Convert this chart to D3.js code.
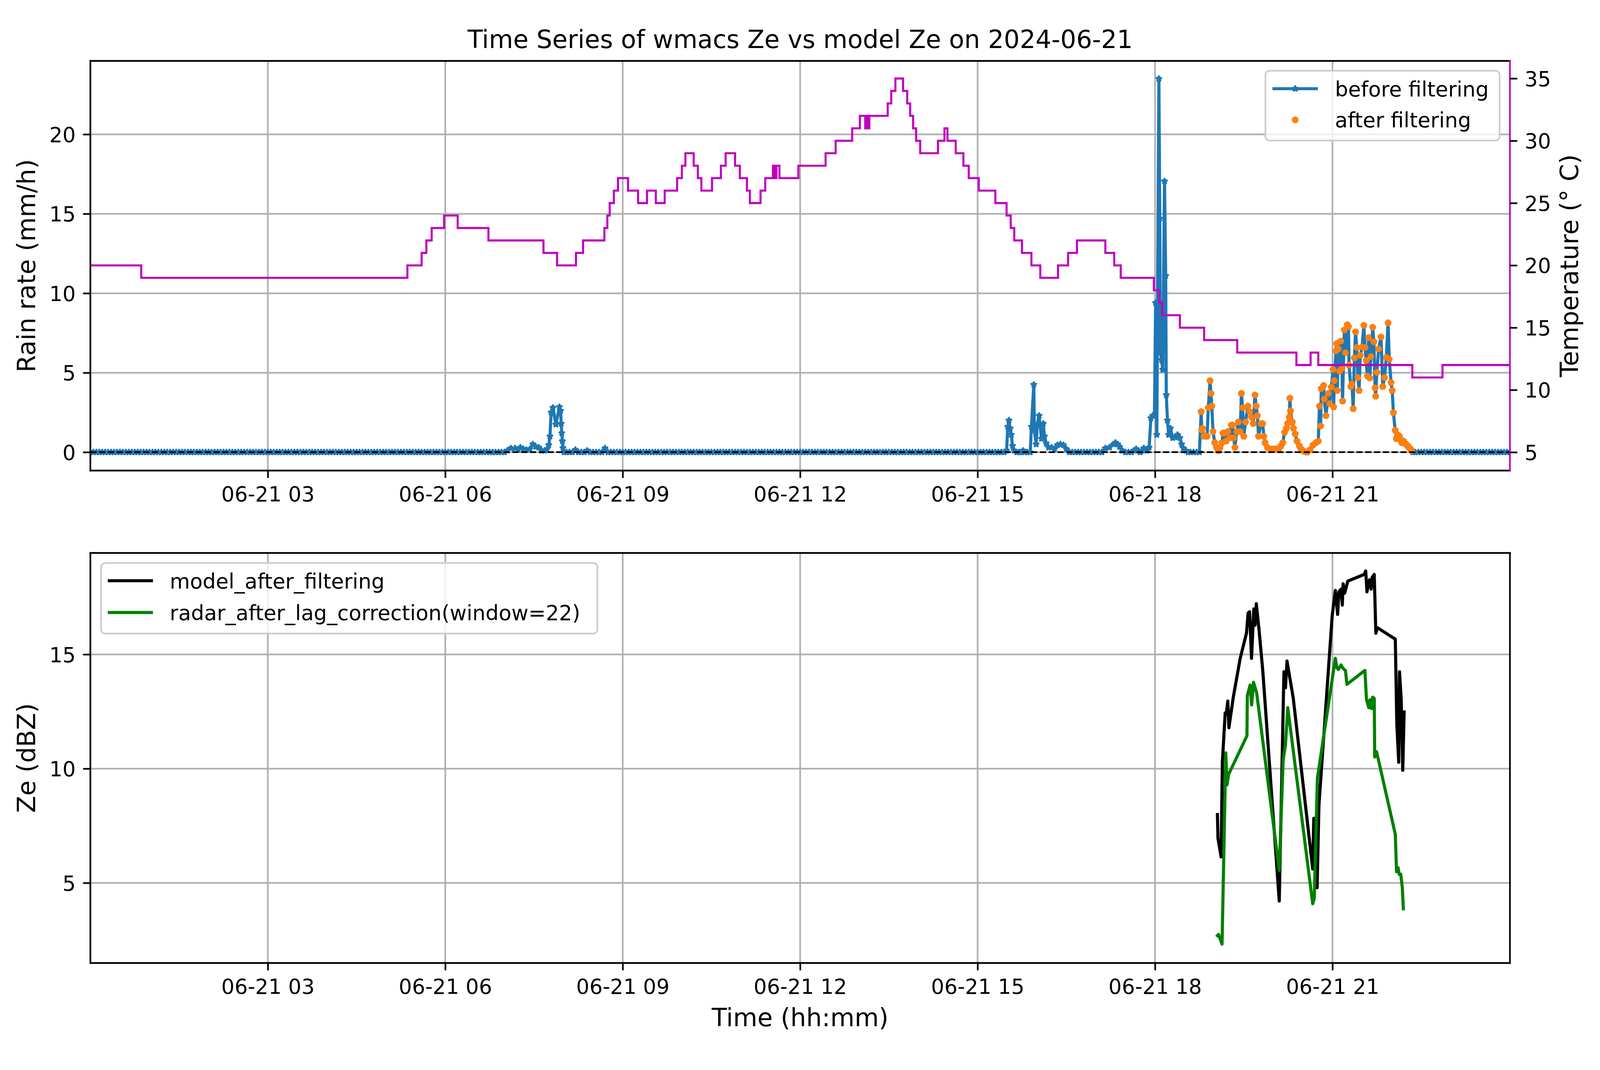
<!DOCTYPE html>
<html>
<head>
<meta charset="utf-8">
<script src="https://cdn.jsdelivr.net/npm/d3@7"></script>
<style>
  html, body { margin: 0; padding: 0; background: #fff; overflow: hidden; }
  #chart { width: 100vw; height: 100vh; }
  svg { display: block; width: 100%; height: 100%; font-family: "DejaVu Sans", sans-serif; }
</style>
</head>
<body>
<div id="chart"></div>
<script>
// ---- data (hours since 2024-06-21 00:00) ----
const tickHours = [3, 6, 9, 12, 15, 18, 21];
const rainTicks = [0, 5, 10, 15, 20];
const tempTicks = [5, 10, 15, 20, 25, 30, 35];
const zeTicks = [5, 10, 15];

// rain rate before filtering, [hour, mm/h]
const rainBefore = [
  [0,0],[0.05,0],[0.1,0],[0.15,0],[0.2,0],[0.25,0],[0.3,0],[0.35,0],[0.4,0],[0.45,0],
  [0.5,0],[0.55,0],[0.6,0],[0.65,0],[0.7,0],[0.75,0],[0.8,0],[0.85,0],[0.9,0],[0.95,0],
  [1,0],[1.05,0],[1.1,0],[1.15,0],[1.2,0],[1.25,0],[1.3,0],[1.35,0],[1.4,0],[1.45,0],
  [1.5,0],[1.55,0],[1.6,0],[1.65,0],[1.7,0],[1.75,0],[1.8,0],[1.85,0],[1.9,0],[1.95,0],
  [2,0],[2.05,0],[2.1,0],[2.15,0],[2.2,0],[2.25,0],[2.3,0],[2.35,0],[2.4,0],[2.45,0],
  [2.5,0],[2.55,0],[2.6,0],[2.65,0],[2.7,0],[2.75,0],[2.8,0],[2.85,0],[2.9,0],[2.95,0],
  [3,0],[3.05,0],[3.1,0],[3.15,0],[3.2,0],[3.25,0],[3.3,0],[3.35,0],[3.4,0],[3.45,0],
  [3.5,0],[3.55,0],[3.6,0],[3.65,0],[3.7,0],[3.75,0],[3.8,0],[3.85,0],[3.9,0],[3.95,0],
  [4,0],[4.05,0],[4.1,0],[4.15,0],[4.2,0],[4.25,0],[4.3,0],[4.35,0],[4.4,0],[4.45,0],
  [4.5,0],[4.55,0],[4.6,0],[4.65,0],[4.7,0],[4.75,0],[4.8,0],[4.85,0],[4.9,0],[4.95,0],
  [5,0],[5.05,0],[5.1,0],[5.15,0],[5.2,0],[5.25,0],[5.3,0],[5.35,0],[5.4,0],[5.45,0],
  [5.5,0],[5.55,0],[5.6,0],[5.65,0],[5.7,0],[5.75,0],[5.8,0],[5.85,0],[5.9,0],[5.95,0],
  [6,0],[6.05,0],[6.1,0],[6.15,0],[6.2,0],[6.25,0],[6.3,0],[6.35,0],[6.4,0],[6.45,0],
  [6.5,0],[6.55,0],[6.6,0],[6.65,0],[6.7,0],[6.75,0],[6.8,0],[6.85,0],[6.9,0],[6.95,0],
  [7,0],[7.05,0.1],[7.11,0.25],[7.18,0.25],[7.23,0.15],[7.27,0.3],[7.32,0.2],[7.37,0.15],
  [7.43,0.2],[7.48,0.5],[7.53,0.35],[7.58,0.3],[7.63,0.1],[7.68,0.1],[7.72,0.2],[7.75,0.45],
  [7.77,1.0],[7.79,2.5],[7.82,2.8],[7.87,1.75],[7.93,2.85],[7.95,2.6],[7.96,1.8],[7.97,1.2],
  [7.98,0.7],[7.99,0.27],[8.01,0],[8.05,0],[8.1,0],[8.15,0],[8.2,0.15],[8.25,0],[8.3,0],
  [8.35,0],[8.4,0.1],[8.45,0],[8.5,0],[8.55,0],[8.6,0],[8.65,0],[8.7,0.25],[8.75,0],
  [8.8,0],[8.85,0],[8.9,0],[8.95,0],
  [9,0],[9.05,0],[9.1,0],[9.15,0],[9.2,0],[9.25,0],[9.3,0],[9.35,0],[9.4,0],[9.45,0],
  [9.5,0],[9.55,0],[9.6,0],[9.65,0],[9.7,0],[9.75,0],[9.8,0],[9.85,0],[9.9,0],[9.95,0],
  [10,0],[10.05,0],[10.1,0],[10.15,0],[10.2,0],[10.25,0],[10.3,0],[10.35,0],[10.4,0],[10.45,0],
  [10.5,0],[10.55,0],[10.6,0],[10.65,0],[10.7,0],[10.75,0],[10.8,0],[10.85,0],[10.9,0],[10.95,0],
  [11,0],[11.05,0],[11.1,0],[11.15,0],[11.2,0],[11.25,0],[11.3,0],[11.35,0],[11.4,0],[11.45,0],
  [11.5,0],[11.55,0],[11.6,0],[11.65,0],[11.7,0],[11.75,0],[11.8,0],[11.85,0],[11.9,0],[11.95,0],
  [12,0],[12.05,0],[12.1,0],[12.15,0],[12.2,0],[12.25,0],[12.3,0],[12.35,0],[12.4,0],[12.45,0],
  [12.5,0],[12.55,0],[12.6,0],[12.65,0],[12.7,0],[12.75,0],[12.8,0],[12.85,0],[12.9,0],[12.95,0],
  [13,0],[13.05,0],[13.1,0],[13.15,0],[13.2,0],[13.25,0],[13.3,0],[13.35,0],[13.4,0],[13.45,0],
  [13.5,0],[13.55,0],[13.6,0],[13.65,0],[13.7,0],[13.75,0],[13.8,0],[13.85,0],[13.9,0],[13.95,0],
  [14,0],[14.05,0],[14.1,0],[14.15,0],[14.2,0],[14.25,0],[14.3,0],[14.35,0],[14.4,0],[14.45,0],
  [14.5,0],[14.55,0],[14.6,0],[14.65,0],[14.7,0],[14.75,0],[14.8,0],[14.85,0],[14.9,0],[14.95,0],
  [15,0],[15.05,0],[15.1,0],[15.15,0],[15.2,0],[15.25,0],[15.3,0],[15.35,0],[15.4,0],[15.45,0],
  [15.49,0.1],[15.51,1.6],[15.53,2.0],[15.55,1.5],[15.57,1.1],[15.59,0.4],[15.62,0.1],[15.66,0],
  [15.7,0],[15.73,0],[15.77,0.1],[15.8,0],[15.84,0],[15.89,0],
  [15.91,1.6],[15.95,4.25],[15.96,1.4],[15.99,0.5],[16.01,1.75],[16.04,2.3],[16.08,0.85],
  [16.11,1.8],[16.13,1.0],[16.16,0.55],[16.2,0.3],[16.25,0.3],[16.3,0.2],[16.35,0.45],
  [16.4,0.5],[16.45,0.45],[16.5,0.2],[16.55,0],[16.6,0],[16.65,0],[16.7,0],[16.75,0],[16.8,0],
  [16.85,0],[16.9,0],[16.95,0],[17,0],[17.05,0],[17.1,0],
  [17.16,0.25],[17.23,0.3],[17.3,0.5],[17.33,0.6],[17.37,0.5],[17.4,0.35],[17.45,0.1],
  [17.5,0],[17.55,0],[17.6,0],[17.64,0.1],[17.68,0.2],[17.72,0.1],[17.75,0],[17.78,0.1],
  [17.81,0.25],[17.86,0.1],[17.9,0.3],[17.93,2.15],
  [17.96,2.3],[17.99,2.3],[18.01,9.4],[18.03,1.1],[18.065,23.5],[18.08,14.7],[18.09,6.3],
  [18.11,5.8],[18.13,5.2],[18.16,17.05],[18.18,11.1],[18.19,3.6],[18.21,2.0],[18.23,1.1],
  [18.26,1.5],[18.3,0.9],[18.34,0.95],[18.38,1.1],[18.42,0.9],[18.45,0.5],[18.48,0.25],
  [18.52,0.1],[18.56,0],[18.6,0],[18.65,0],[18.7,0],[18.75,0],
  [18.78,2.55],[18.79,1.4],[18.8,1.5],[18.83,1.0],[18.86,1.0],[18.88,1.0],[18.9,2.8],[18.93,4.5],
  [18.945,3.7],[18.96,2.9],[18.98,1.3],[19.01,0.6],[19.04,0.3],[19.07,0.1],[19.1,0.3],[19.13,0.6],
  [19.15,1.2],[19.17,1.2],[19.2,0.7],[19.23,1.3],[19.26,0.9],[19.29,1.7],[19.31,1.7],[19.33,0.9],
  [19.35,0.3],[19.38,1.3],[19.41,1.9],[19.44,1.3],[19.46,3.7],[19.48,2.8],[19.5,1.0],[19.53,1.9],
  [19.57,2.9],[19.6,2.55],[19.63,2.2],[19.66,1.8],[19.69,3.6],[19.71,2.9],[19.73,2.3],[19.75,1.0],
  [19.79,1.8],[19.82,1.8],[19.84,1.0],[19.86,0.6],[19.9,0.3],[19.94,0.2],[19.98,0.2],[20.02,0.2],
  [20.06,0.2],[20.09,0.15],[20.13,0.4],[20.16,0.6],[20.19,1.25],[20.22,1.5],[20.24,1.8],[20.27,2.2],
  [20.28,3.4],[20.29,2.6],[20.32,1.9],[20.34,1.5],[20.37,1.15],[20.4,0.7],[20.44,0.4],[20.47,0.2],
  [20.52,0.05],[20.57,0],[20.62,0.15],[20.67,0.45],[20.72,0.6],[20.76,0.7],[20.78,2.9],[20.8,1.65],
  [20.81,4.0],[20.85,4.2],[20.86,3.35],[20.89,2.3],[20.93,3.7],[20.95,3.05],[20.98,4.1],[21.01,5.2],
  [21.02,2.85],[21.03,4.5],[21.06,6.38],[21.07,6.83],[21.08,3.88],[21.1,6.5],[21.12,5.1],[21.14,6.99],
  [21.16,5.27],[21.17,3.22],[21.2,7.69],[21.22,6.26],[21.25,8.02],[21.27,7.9],[21.28,5.48],[21.31,4.13],
  [21.33,4.3],[21.35,2.74],[21.37,5.93],[21.39,7.57],[21.41,6.59],[21.43,4.7],[21.45,3.88],[21.47,6.1],
  [21.5,6.62],[21.53,7.98],[21.55,6.59],[21.57,5.77],[21.59,4.79],[21.61,7.21],[21.63,4.67],[21.65,6.02],
  [21.68,7.86],[21.7,6.95],[21.72,4.05],[21.73,3.52],[21.75,5.03],[21.78,6.5],[21.82,7.25],[21.85,4.13],
  [21.88,4.7],[21.91,5.97],[21.94,8.14],[21.96,5.85],[21.99,4.38],[22.01,3.88],[22.03,2.49],[22.06,1.38],
  [22.08,0.85],[22.1,1.1],[22.13,1.01],[22.15,0.8],[22.17,0.6],[22.2,0.7],[22.24,0.52],[22.27,0.4],
  [22.29,0.31],[22.32,0.2],[22.34,0.1],[22.36,0],
  [22.4,0],[22.45,0],[22.5,0],[22.55,0],[22.6,0],[22.65,0],[22.7,0],[22.75,0],[22.8,0],[22.85,0],
  [22.9,0],[22.95,0],[23,0],[23.05,0],[23.1,0],[23.15,0],[23.2,0],[23.25,0],[23.3,0],[23.35,0],
  [23.4,0],[23.45,0],[23.5,0],[23.55,0],[23.6,0],[23.65,0],[23.7,0],[23.75,0],[23.8,0],[23.85,0],
  [23.9,0],[23.95,0],[24,0]
];
// samples kept by the filter
const filterWindow = [18.77, 22.35];

// temperature, [hour the level starts, deg C]
const temperature = [
  [0,20],[0.86,19],[5.36,20],[5.6,21],[5.68,22],[5.77,23],[5.98,24],[6.21,23],[6.73,22],
  [7.66,21],[7.89,20],[8.21,21],[8.33,22],[8.69,23],[8.74,24],[8.78,25],[8.85,26],[8.92,27],
  [9.09,26],[9.26,25],[9.41,26],[9.56,25],[9.71,26],[9.92,27],[10.0,28],[10.06,29],[10.2,28],
  [10.27,27],[10.33,26],[10.51,27],[10.66,28],[10.74,29],[10.9,28],[10.98,27],[11.1,26],
  [11.15,25],[11.33,26],[11.41,27],[11.54,28],[11.57,27],[11.6,28],[11.65,27],[11.97,28],
  [12.43,29],[12.6,30],[12.88,31],[13.01,32],[13.1,31],[13.13,32],[13.15,31],[13.17,32],
  [13.48,33],[13.54,34],[13.61,35],[13.74,34],[13.81,33],[13.86,32],[13.91,31],[13.96,30],
  [14.03,29],[14.33,30],[14.44,31],[14.49,30],[14.63,29],[14.76,28],[14.85,27],[15.02,26],
  [15.3,25],[15.49,24],[15.56,23],[15.62,22],[15.75,21],[15.91,20],[16.06,19],[16.36,20],
  [16.53,21],[16.68,22],[17.16,21],[17.31,20],[17.42,19],[17.98,18],[18.07,17],[18.12,16],
  [18.42,15],[18.83,14],[19.39,13],[20.39,12],[20.63,13],[20.76,12],[22.35,11],[22.86,12],
  [24.0,12]
];

// Ze (dBZ), [hour, value]
const modelZe = [
  [19.054,8.06],[19.064,6.95],[19.117,6.14],[19.138,10.28],[19.186,12.44],[19.204,12.38],
  [19.23,12.96],[19.249,11.79],[19.323,13.13],[19.44,14.83],[19.546,15.93],[19.573,16.81],
  [19.599,16.87],[19.631,14.83],[19.67,16.99],[19.691,16.28],[19.712,17.22],[19.757,16.11],
  [19.823,14.24],[20.1,4.21],[20.179,14.24],[20.205,13.54],[20.231,14.71],[20.337,13.08],
  [20.666,5.61],[20.684,7.83],[20.74,4.79],[20.771,8.41],[20.995,16.69],[21.048,17.8],
  [21.087,16.75],[21.108,17.74],[21.145,17.86],[21.166,17.16],[21.18,18.09],[21.206,17.68],
  [21.259,18.21],[21.535,18.5],[21.562,18.65],[21.583,17.74],[21.628,18.27],[21.654,17.86],
  [21.672,18.38],[21.706,18.5],[21.733,15.93],[21.759,16.17],[22.062,15.67],[22.088,11.91],
  [22.12,10.28],[22.133,14.24],[22.162,13.02],[22.188,9.93],[22.212,12.55]
];
const radarZe = [
  [19.038,2.64],[19.072,2.75],[19.133,2.32],[19.196,10.69],[19.217,9.29],[19.244,9.75],
  [19.554,11.44],[19.56,13.19],[19.607,13.66],[19.633,12.79],[19.665,13.78],[19.718,13.31],
  [19.744,12.79],[20.1,5.55],[20.166,10.39],[20.205,11.04],[20.244,12.67],[20.666,4.09],
  [20.692,4.33],[20.745,9.58],[21.048,14.83],[21.074,14.42],[21.1,14.34],[21.145,14.54],
  [21.18,14.38],[21.219,14.3],[21.245,13.69],[21.548,14.3],[21.575,13.02],[21.614,12.67],
  [21.635,13.02],[21.659,12.63],[21.68,13.13],[21.706,13.08],[21.714,10.51],[21.746,10.74],
  [22.062,7.13],[22.083,5.49],[22.109,5.67],[22.128,5.38],[22.154,5.38],[22.181,4.79],
  [22.199,3.8]
];

(function drawChart() {
    // figure is laid out 5241 units wide; its height follows the window shape
    const W = 5241;
    const vw = window.innerWidth || 5241;
    const vh = window.innerHeight || 2740;
    const H = Math.round(W * vh / vw);
    const fy = v => v * H / 2740;    // vertical layout fractions of the 2740-high original

    const pt = 6.8;                  // px per point
    const left = 296, right = 4946;
    const top1 = fy(156), bottom1 = fy(1205);
    const top2 = fy(1416), bottom2 = fy(2466);
    const blue = "#1f77b4", orange = "#ff7f0e", magenta = "#bf00bf", green = "#008000";
    const gridColor = "#b0b0b0";
    const day0 = new Date(2024, 5, 21, 0, 0);
    const toDate = h => new Date(day0.getTime() + h * 3600e3);

    const x = d3.scaleTime().domain([toDate(0), toDate(24)]).range([left, right]);
    const yRain = d3.scaleLinear().domain([-1.155, 24.62]).range([bottom1, top1]);
    const yTemp = d3.scaleLinear().domain([3.53, 36.41]).range([bottom1, top1]);
    const yZe = d3.scaleLinear().domain([1.496, 19.44]).range([bottom2, top2]);
    const fmt = d3.timeFormat("%m-%d %H");

    const svg = d3.select("#chart").append("svg")
        .attr("viewBox", `0 0 ${W} ${H}`)
        .attr("preserveAspectRatio", "xMidYMid meet");
    svg.append("rect").attr("width", W).attr("height", H).attr("fill", "#fff");

    const defs = svg.append("defs");
    [["clip-top", top1, bottom1], ["clip-bot", top2, bottom2]].forEach(([id, t, b]) => {
        defs.append("clipPath").attr("id", id)
            .append("rect").attr("x", left).attr("y", t)
            .attr("width", right - left).attr("height", b - t);
    });

    const starSize = 8 * 8 / 0.8908130915292852;  // outer radius 8px
    const star = d3.symbol().type(d3.symbolStar).size(starSize);

    function grid(g, t, b, yScale, yTicks) {
        tickHours.forEach(h => {
            g.append("line")
                .attr("x1", x(toDate(h))).attr("x2", x(toDate(h)))
                .attr("y1", t).attr("y2", b)
                .attr("stroke", gridColor).attr("stroke-width", 0.8 * pt);
        });
        yTicks.forEach(v => {
            g.append("line")
                .attr("x1", left).attr("x2", right)
                .attr("y1", yScale(v)).attr("y2", yScale(v))
                .attr("stroke", gridColor).attr("stroke-width", 0.8 * pt);
        });
    }

    function styleAxis(g, dy) {
        g.select(".domain").remove();
        g.attr("font-size", null).attr("font-family", null);
        g.selectAll("line").attr("stroke", "#000").attr("stroke-width", 0.8 * pt);
        g.selectAll("text")
            .attr("font-size", 68)
            .attr("font-family", "DejaVu Sans")
            .attr("fill", "#000");
        if (dy) g.selectAll("text").attr("dy", dy);
    }

    function xAxis(yPos) {
        const g = svg.append("g").attr("transform", `translate(0,${yPos})`)
            .call(d3.axisBottom(x).tickValues(tickHours.map(toDate))
                .tickFormat(fmt).tickSize(24).tickPadding(29).tickSizeOuter(0));
        styleAxis(g, null);
    }

    function spines(t, b, rightColor) {
        const g = svg.append("g").attr("fill", "none").attr("stroke-width", 0.8 * pt)
            .attr("stroke-linecap", "square");
        g.append("line").attr("x1", left).attr("x2", left).attr("y1", t).attr("y2", b).attr("stroke", "#000");
        g.append("line").attr("x1", left).attr("x2", right).attr("y1", t).attr("y2", t).attr("stroke", "#000");
        g.append("line").attr("x1", left).attr("x2", right).attr("y1", b).attr("y2", b).attr("stroke", "#000");
        g.append("line").attr("x1", right).attr("x2", right).attr("y1", t).attr("y2", b).attr("stroke", rightColor);
    }

    function yLabel(text, xPos, yPos) {
        svg.append("text")
            .attr("transform", `translate(${xPos},${yPos}) rotate(-90)`)
            .attr("text-anchor", "middle")
            .attr("font-size", 81.6)
            .attr("fill", "#000")
            .text(text);
    }

    function legendBox(x0, y0, w, h) {
        svg.append("rect")
            .attr("x", x0).attr("y", y0).attr("width", w).attr("height", h)
            .attr("rx", 13.6).attr("ry", 13.6)
            .attr("fill", "#fff").attr("fill-opacity", 0.8)
            .attr("stroke", "#cccccc").attr("stroke-width", 0.8 * pt);
    }

    function legendText(text, xPos, yPos) {
        svg.append("text")
            .attr("x", xPos).attr("y", yPos).attr("dy", "0.365em")
            .attr("font-size", 68).attr("fill", "#000")
            .text(text);
    }

    // ---------- top panel ----------
    grid(svg.append("g"), top1, bottom1, yRain, rainTicks);

    const topData = svg.append("g").attr("clip-path", "url(#clip-top)");
    const rainLine = d3.line().x(d => x(toDate(d[0]))).y(d => yRain(d[1]));
    topData.append("path")
        .attr("d", rainLine(rainBefore))
        .attr("fill", "none").attr("stroke", blue)
        .attr("stroke-width", 1.5 * pt).attr("stroke-linejoin", "round");
    topData.append("g").selectAll("path").data(rainBefore).join("path")
        .attr("transform", d => `translate(${x(toDate(d[0]))},${yRain(d[1])})`)
        .attr("d", star)
        .attr("fill", blue).attr("stroke", blue)
        .attr("stroke-width", pt).attr("stroke-linejoin", "round");

    const rainAfter = rainBefore.filter(d => d[0] >= filterWindow[0] && d[0] <= filterWindow[1]);
    topData.append("g").selectAll("circle").data(rainAfter).join("circle")
        .attr("cx", d => x(toDate(d[0]))).attr("cy", d => yRain(d[1]))
        .attr("r", 11).attr("fill", orange);

    topData.append("line")
        .attr("x1", left).attr("x2", right)
        .attr("y1", yRain(0)).attr("y2", yRain(0))
        .attr("stroke", "#000").attr("stroke-width", 0.8 * pt)
        .attr("stroke-dasharray", "20.1 8.7");

    const tempLine = d3.line().curve(d3.curveStepAfter)
        .x(d => x(toDate(d[0]))).y(d => yTemp(d[1]));
    topData.append("path")
        .attr("d", tempLine(temperature))
        .attr("fill", "none").attr("stroke", magenta)
        .attr("stroke-width", pt);

    spines(top1, bottom1, magenta);
    xAxis(bottom1);

    const yLeft1 = svg.append("g").attr("transform", `translate(${left},0)`)
        .call(d3.axisLeft(yRain).tickValues(rainTicks).tickSize(24).tickPadding(24).tickSizeOuter(0));
    styleAxis(yLeft1, "0.365em");

    const yRight1 = svg.append("g").attr("transform", `translate(${right},0)`)
        .call(d3.axisRight(yTemp).tickValues(tempTicks).tickSize(24).tickPadding(24).tickSizeOuter(0));
    styleAxis(yRight1, "0.365em");

    yLabel("Rain rate (mm/h)", 115, (top1 + bottom1) / 2);
    yLabel("Temperature (\u00b0 C)", 5170, (top1 + bottom1) / 2);

    svg.append("text")
        .attr("x", (left + right) / 2).attr("y", top1 - 42)
        .attr("text-anchor", "middle")
        .attr("font-size", 81.6).attr("fill", "#000")
        .text("Time Series of wmacs Ze vs model Ze on 2024-06-21");

    // legend, upper right
    const lgTop = top1 + 32;
    legendBox(right - 801, lgTop, 767, 229);
    svg.append("line")
        .attr("x1", right - 778).attr("x2", right - 629).attr("y1", lgTop + 59).attr("y2", lgTop + 59)
        .attr("stroke", blue).attr("stroke-width", 1.5 * pt);
    svg.append("path")
        .attr("transform", `translate(${right - 703.5},${lgTop + 59})`)
        .attr("d", star)
        .attr("fill", blue).attr("stroke", blue)
        .attr("stroke-width", pt).attr("stroke-linejoin", "round");
    legendText("before filtering", right - 573, lgTop + 59);
    svg.append("circle").attr("cx", right - 703.5).attr("cy", lgTop + 161).attr("r", 11).attr("fill", orange);
    legendText("after filtering", right - 573, lgTop + 161);

    // ---------- bottom panel ----------
    grid(svg.append("g"), top2, bottom2, yZe, zeTicks);

    const botData = svg.append("g").attr("clip-path", "url(#clip-bot)");
    const zeLine = d3.line().x(d => x(toDate(d[0]))).y(d => yZe(d[1]));
    botData.append("path")
        .attr("d", zeLine(modelZe))
        .attr("fill", "none").attr("stroke", "#000")
        .attr("stroke-width", 1.5 * pt).attr("stroke-linejoin", "round");
    botData.append("path")
        .attr("d", zeLine(radarZe))
        .attr("fill", "none").attr("stroke", green)
        .attr("stroke-width", 1.5 * pt).attr("stroke-linejoin", "round");

    spines(top2, bottom2, "#000");
    xAxis(bottom2);

    const yLeft2 = svg.append("g").attr("transform", `translate(${left},0)`)
        .call(d3.axisLeft(yZe).tickValues(zeTicks).tickSize(24).tickPadding(24).tickSizeOuter(0));
    styleAxis(yLeft2, "0.365em");

    yLabel("Ze (dBZ)", 115, (top2 + bottom2) / 2);

    svg.append("text")
        .attr("x", (left + right) / 2).attr("y", bottom2 + 207)
        .attr("text-anchor", "middle")
        .attr("font-size", 81.6).attr("fill", "#000")
        .text("Time (hh:mm)");

    // legend, upper left
    const lbTop = top2 + 33;
    legendBox(left + 35, lbTop, 1626, 231);
    svg.append("line")
        .attr("x1", left + 57).attr("x2", left + 205).attr("y1", lbTop + 58).attr("y2", lbTop + 58)
        .attr("stroke", "#000").attr("stroke-width", 1.5 * pt);
    legendText("model_after_filtering", left + 260, lbTop + 58);
    svg.append("line")
        .attr("x1", left + 57).attr("x2", left + 205).attr("y1", lbTop + 162).attr("y2", lbTop + 162)
        .attr("stroke", green).attr("stroke-width", 1.5 * pt);
    legendText("radar_after_lag_correction(window=22)", left + 260, lbTop + 162);
}());
</script>
</body>
</html>
